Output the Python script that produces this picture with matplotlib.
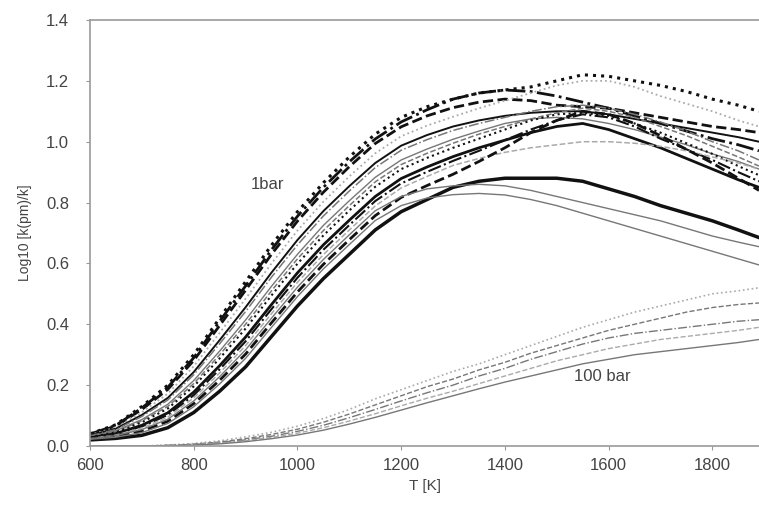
import numpy as np
import matplotlib.pyplot as plt

plt.rcParams['font.family'] = ['Liberation Sans', 'DejaVu Sans']

# temperature grid [K]
T = [600, 650, 700, 750, 800, 850, 900, 950, 1000, 1050, 1100, 1150, 1200, 1250,
     1300, 1350, 1400, 1450, 1500, 1550, 1600, 1650, 1700, 1750, 1800, 1850, 1890]

# 1 bar curves
b1_c01 = [.04, .07, .13, .20, .30, .42, .54, .66, .77, .865, .95, 1.025, 1.08, 1.115,
          1.14, 1.16, 1.17, 1.18, 1.20, 1.22, 1.215, 1.20, 1.185, 1.165, 1.14, 1.12, 1.10]
b1_c02 = [.039, .068, .125, .193, .29, .41, .526, .645, .755, .85, .934, 1.009, 1.065, 1.105,
          1.14, 1.16, 1.17, 1.165, 1.15, 1.13, 1.11, 1.085, 1.06, 1.035, 1.01, .99, .97]
b1_c03 = [.038, .066, .12, .186, .281, .396, .512, .63, .739, .834, .918, .994, 1.049, 1.085,
          1.112, 1.13, 1.14, 1.135, 1.12, 1.115, 1.11, 1.095, 1.08, 1.065, 1.05, 1.04, 1.03]
b1_c04 = [.036, .061, .111, .172, .262, .372, .484, .60, .708, .803, .886, .962, 1.018, 1.053,
          1.082, 1.11, 1.135, 1.16, 1.185, 1.20, 1.20, 1.18, 1.15, 1.125, 1.10, 1.07, 1.05]
b1_c05 = [.034, .057, .102, .158, .243, .348, .456, .57, .677, .772, .854, .93, .987, 1.022,
          1.05, 1.07, 1.085, 1.095, 1.10, 1.10, 1.09, 1.075, 1.06, 1.045, 1.03, 1.015, 1.00]
b1_c06 = [.033, .054, .097, .151, .234, .336, .442, .555, .661, .756, .838, .915, .972, 1.007,
          1.037, 1.06, 1.08, 1.10, 1.115, 1.12, 1.11, 1.09, 1.065, 1.035, 1.00, .97, .94]
b1_c07 = [.031, .05, .087, .137, .215, .312, .414, .525, .63, .725, .806, .883, .94, .976,
          1.008, 1.035, 1.06, 1.075, 1.08, 1.075, 1.06, 1.04, 1.015, .99, .96, .935, .91]
b1_c08 = [.03, .048, .083, .13, .205, .30, .40, .51, .615, .708, .79, .868, .925, .962,
          .995, 1.025, 1.05, 1.075, 1.095, 1.11, 1.10, 1.08, 1.05, 1.02, .985, .95, .92]
b1_c09 = [.029, .045, .078, .123, .196, .288, .386, .495, .599, .692, .774, .852, .91, .947,
          .98, 1.01, 1.04, 1.07, 1.09, 1.095, 1.085, 1.06, 1.03, .995, .96, .92, .89]
b1_c10 = [.027, .041, .068, .109, .177, .264, .358, .465, .569, .661, .742, .82, .879, .917,
          .951, .98, 1.005, 1.03, 1.05, 1.06, 1.04, 1.01, .98, .945, .91, .875, .85]
b1_c11 = [.026, .039, .064, .102, .167, .252, .344, .45, .553, .645, .726, .805, .863, .901,
          .937, .97, 1.005, 1.04, 1.07, 1.09, 1.08, 1.05, 1.01, .975, .94, .90, .87]
b1_c12 = [.025, .036, .059, .095, .158, .24, .33, .435, .538, .629, .71, .789, .848, .886,
          .922, .945, .965, .98, .99, 1.0, 1.0, .995, .985, .97, .95, .93, .91]
b1_c13 = [.023, .032, .049, .081, .139, .216, .302, .405, .506, .597, .678, .757, .817, .856,
          .893, .935, .98, 1.03, 1.07, 1.10, 1.09, 1.06, 1.02, .975, .93, .88, .84]
b1_c14 = [.02, .025, .035, .06, .11, .18, .26, .36, .46, .55, .63, .71, .77, .81,
          .85, .87, .88, .88, .88, .87, .845, .82, .79, .765, .74, .71, .685]
b1_c15 = [.024, .034, .054, .088, .148, .228, .316, .42, .522, .613, .694, .773, .82, .845,
          .855, .86, .855, .84, .82, .80, .78, .76, .74, .715, .69, .67, .655]
b1_c16 = [.022, .029, .044, .074, .129, .204, .288, .39, .491, .582, .662, .741, .79, .815,
          .826, .83, .825, .81, .79, .765, .74, .715, .69, .665, .64, .615, .595]

# 100 bar curves
b100_c1 = [0, 0, 0, .003, .008, .017, .03, .045, .065, .09, .12, .155, .185, .215,
           .245, .27, .30, .33, .36, .39, .415, .44, .46, .48, .50, .51, .52]
b100_c2 = [0, 0, 0, .002, .006, .013, .024, .038, .055, .078, .105, .135, .165, .195,
           .22, .25, .275, .305, .33, .355, .38, .40, .42, .44, .455, .465, .47]
b100_c3 = [0, 0, 0, .002, .005, .011, .02, .032, .048, .068, .093, .12, .148, .175,
           .20, .23, .255, .285, .31, .335, .355, .37, .38, .39, .40, .41, .415]
b100_c4 = [0, 0, 0, .001, .004, .009, .017, .028, .042, .06, .082, .106, .132, .157,
           .18, .205, .23, .255, .28, .30, .32, .335, .35, .36, .37, .38, .39]
b100_c5 = [0, 0, 0, .001, .003, .007, .014, .024, .036, .052, .072, .094, .118, .142,
           .165, .188, .21, .23, .25, .27, .285, .30, .31, .32, .33, .34, .35]

fig = plt.figure(figsize=(7.59, 5.09), dpi=100)
ax = fig.add_axes([0.1186, 0.1238, 0.8814, 0.8369])

blk = '#111111'
gry = '#777777'
lgt = '#aaaaaa'

ax.plot(T, b1_c01, ls=':', color=blk, lw=2.2)
ax.plot(T, b1_c02, ls='-.', color=blk, lw=2.0)
ax.plot(T, b1_c03, ls='--', color=blk, lw=2.0)
ax.plot(T, b1_c04, ls=':', color=lgt, lw=1.3)
ax.plot(T, b1_c05, ls='-', color=blk, lw=1.4)
ax.plot(T, b1_c06, ls='-.', color=gry, lw=1.1)
ax.plot(T, b1_c07, ls='-', color=gry, lw=1.0)
ax.plot(T, b1_c08, ls='--', color=gry, lw=1.1)
ax.plot(T, b1_c09, ls=':', color=blk, lw=1.5)
ax.plot(T, b1_c10, ls='-', color=blk, lw=2.0)
ax.plot(T, b1_c11, ls='-.', color=blk, lw=1.5)
ax.plot(T, b1_c12, ls='--', color=lgt, lw=1.1)
ax.plot(T, b1_c13, ls='--', color=blk, lw=2.0)
ax.plot(T, b1_c14, ls='-', color=blk, lw=2.5)
ax.plot(T, b1_c15, ls='-', color=gry, lw=1.0)
ax.plot(T, b1_c16, ls='-', color=gry, lw=1.0)

ax.plot(T, b100_c1, ls=':', color=lgt, lw=1.2)
ax.plot(T, b100_c2, ls='--', color=gry, lw=1.0)
ax.plot(T, b100_c3, ls='-.', color=gry, lw=1.0)
ax.plot(T, b100_c4, ls='--', color=lgt, lw=1.0)
ax.plot(T, b100_c5, ls='-', color=gry, lw=1.0)

ax.text(910, 0.86, '1bar', fontsize=12, color='#444444', va='center')
ax.text(1534, 0.23, '100 bar', fontsize=12, color='#444444', va='center')

ax.set_xlim(600, 1890)
ax.set_ylim(0, 1.4)
ax.set_xticks(np.arange(600, 1801, 200))
ax.set_yticks(np.arange(0, 1.41, 0.2))
ax.yaxis.set_major_formatter(plt.FormatStrFormatter('%.1f'))

for s in ['top', 'left', 'bottom']:
    ax.spines[s].set_color('#999999')
    ax.spines[s].set_linewidth(1.2)
ax.spines['right'].set_visible(False)
ax.tick_params(colors='#999999', labelcolor='#444444', labelsize=12, length=3)
ax.tick_params(axis='y', pad=12)
ax.tick_params(axis='x', pad=6)

ax.set_xlabel('T [K]', fontsize=11, color='#444444', labelpad=4)
ax.set_ylabel('Log10 [k(pm)/k]', fontsize=10, color='#444444', labelpad=10)

fig.savefig('out.png', dpi=100)
